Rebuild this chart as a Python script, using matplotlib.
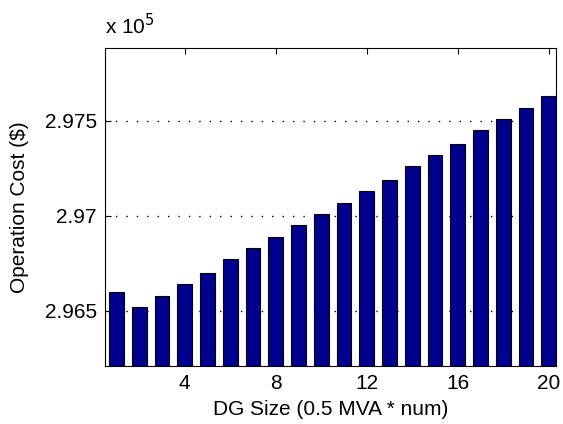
import numpy as np
import matplotlib.pyplot as plt

plt.rcParams['font.family'] = ['Liberation Sans', 'DejaVu Sans']

# DG size index and operation cost (x 10^5 $)
dg_num = np.arange(1, 21)
cost = [2.9660, 2.9652, 2.9658, 2.9664, 2.9670, 2.9677, 2.9683, 2.9689,
        2.9695, 2.9701, 2.9707, 2.9713, 2.9719, 2.9726, 2.9732, 2.9738,
        2.9745, 2.9751, 2.9757, 2.9763]
yticks = [2.965, 2.970, 2.975]
ytick_labels = ['2.965', '2.97', '2.975']
xticks = [4, 8, 12, 16, 20]

fig = plt.figure(figsize=(5.63, 4.24), dpi=100)
ax = fig.add_axes([0.1865, 0.1375, 0.8005, 0.7495])

ax.bar(dg_num, cost, width=0.65, color='#00008F', edgecolor='black',
       linewidth=0.8, zorder=2)

ax.set_xlim(0.5, 20.3)
ax.set_ylim(2.9621, 2.97885)
ax.set_xticks(xticks)
ax.set_yticks(yticks)
ax.set_yticklabels(ytick_labels)
ax.yaxis.grid(True, linestyle=(0, (1, 6.5)), color='black', linewidth=1.0, zorder=0)
ax.set_axisbelow(True)
ax.tick_params(direction='in', top=True, right=True, labelsize=15, length=4, pad=6)

ax.set_xlabel('DG Size (0.5 MVA * num)', fontsize=15, labelpad=5)
ax.set_ylabel('Operation Cost ($)', fontsize=15, labelpad=11)
fig.text(0.187, 0.91, r'x 10$^5$', fontsize=15, ha='left', va='bottom')

fig.savefig('out.png', dpi=100)
